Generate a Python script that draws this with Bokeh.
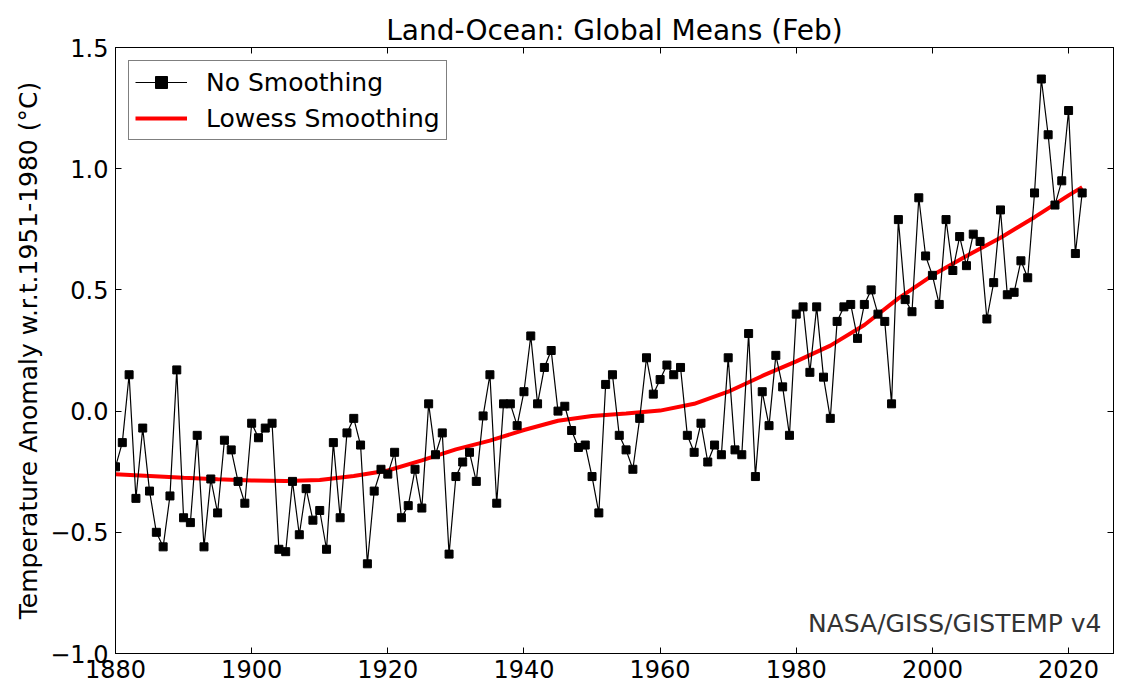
from bokeh.plotting import figure
from bokeh.models import Range1d, LinearAxis, FixedTicker, Legend, LegendItem, Label
from bokeh.embed import file_html
from bokeh.resources import INLINE

# ---- data ----
years = list(range(1880, 2023))
anomaly = [
    -0.23, -0.13, 0.15, -0.36, -0.07, -0.33, -0.50, -0.56, -0.35, 0.17,   # 1880s
    -0.44, -0.46, -0.10, -0.56, -0.28, -0.42, -0.12, -0.16, -0.29, -0.38, # 1890s
    -0.05, -0.11, -0.07, -0.05, -0.57, -0.58, -0.29, -0.51, -0.32, -0.45, # 1900s
    -0.41, -0.57, -0.13, -0.44, -0.09, -0.03, -0.14, -0.63, -0.33, -0.24, # 1910s
    -0.26, -0.17, -0.44, -0.39, -0.24, -0.40, 0.03, -0.18, -0.09, -0.59,  # 1920s
    -0.27, -0.21, -0.17, -0.29, -0.02, 0.15, -0.38, 0.03, 0.03, -0.06,    # 1930s
    0.08, 0.31, 0.03, 0.18, 0.25, 0.00, 0.02, -0.08, -0.15, -0.14,        # 1940s
    -0.27, -0.42, 0.11, 0.15, -0.10, -0.16, -0.24, -0.03, 0.22, 0.07,     # 1950s
    0.13, 0.19, 0.15, 0.18, -0.10, -0.17, -0.05, -0.21, -0.14, -0.18,     # 1960s
    0.22, -0.16, -0.18, 0.32, -0.27, 0.08, -0.06, 0.23, 0.10, -0.10,      # 1970s
    0.40, 0.43, 0.16, 0.43, 0.14, -0.03, 0.37, 0.43, 0.44, 0.30,          # 1980s
    0.44, 0.50, 0.40, 0.37, 0.03, 0.79, 0.46, 0.41, 0.88, 0.64,           # 1990s
    0.56, 0.44, 0.79, 0.58, 0.72, 0.60, 0.73, 0.70, 0.38, 0.53,           # 2000s
    0.83, 0.48, 0.49, 0.62, 0.55, 0.90, 1.37, 1.14, 0.85, 0.95,           # 2010s
    1.24, 0.65, 0.90,                                                     # 2020s
]

lowess_years = [1880, 1885, 1890, 1895, 1900, 1905, 1910, 1915, 1920, 1925,
                1930, 1935, 1940, 1945, 1950, 1955, 1960, 1965, 1970, 1975,
                1980, 1985, 1990, 1995, 2000, 2005, 2010, 2015, 2020, 2022]
lowess_values = [-0.261, -0.268, -0.275, -0.281, -0.286, -0.288, -0.284, -0.268, -0.245, -0.203,
                 -0.158, -0.122, -0.078, -0.040, -0.020, -0.010, 0.002, 0.030, 0.080, 0.145,
                 0.205, 0.270, 0.355, 0.465, 0.560, 0.640, 0.715, 0.800, 0.890, 0.924]

x_ticks = [1880, 1900, 1920, 1940, 1960, 1980, 2000, 2020]
y_ticks = [-1.0, -0.5, 0.0, 0.5, 1.0, 1.5]
y_tick_labels = ["\u22121.0", "\u22120.5", "0.0", "0.5", "1.0", "1.5"]

title_text = "Land-Ocean: Global Means (Feb)"
y_label = "Temperature Anomaly w.r.t.1951-1980 (\u00b0C)"
credit = "NASA/GISS/GISTEMP v4"

FONT = "DejaVu Sans"
TICK_FS = "24px"
TEXT_FS = "25px"
TITLE_FS = "28px"

p = figure(width=1122, height=692, output_backend="svg", toolbar_location=None,
           x_range=Range1d(1880, 2026.6), y_range=Range1d(-1.0, 1.5),
           min_border_left=115, min_border_right=9, min_border_top=47, min_border_bottom=39)
p.background_fill_color = "white"
p.border_fill_color = "white"
p.outline_line_color = "black"
p.outline_line_width = 1
p.xgrid.visible = False
p.ygrid.visible = False

p.title.text = title_text
p.title.align = "center"
p.title.text_font = FONT
p.title.text_font_size = TITLE_FS
p.title.text_font_style = "normal"
p.title.text_color = "black"
p.title.standoff = 2

def style_axis(ax, labels=True):
    ax.major_tick_in = 6
    ax.major_tick_out = 0
    ax.minor_tick_line_color = None
    ax.axis_line_color = "black"
    ax.major_tick_line_color = "black"
    ax.major_label_text_font = FONT
    ax.major_label_text_font_size = TICK_FS if labels else "0px"
    ax.major_label_text_color = "black"
    ax.major_label_standoff = 7 if labels else 0

style_axis(p.xaxis[0])
p.xaxis[0].ticker = FixedTicker(ticks=x_ticks)
p.xaxis[0].major_label_standoff = 6
style_axis(p.yaxis[0])
p.yaxis[0].ticker = FixedTicker(ticks=y_ticks)
p.yaxis[0].major_label_overrides = {t: s for t, s in zip(y_ticks, y_tick_labels)}
p.yaxis[0].axis_label = y_label
p.yaxis[0].axis_label_text_font = FONT
p.yaxis[0].axis_label_text_font_size = TEXT_FS
p.yaxis[0].axis_label_text_font_style = "normal"
p.yaxis[0].axis_label_text_color = "black"
p.yaxis[0].axis_label_standoff = 4

top_ax = LinearAxis(ticker=FixedTicker(ticks=x_ticks))
style_axis(top_ax, labels=False)
top_ax.major_label_overrides = {t: "" for t in x_ticks}
p.add_layout(top_ax, "above")
right_ax = LinearAxis(ticker=FixedTicker(ticks=y_ticks))
style_axis(right_ax, labels=False)
right_ax.major_label_overrides = {t: "" for t in y_ticks}
p.add_layout(right_ax, "right")

red = p.line(lowess_years, lowess_values, line_color="#ff0000", line_width=4)
blk_line = p.line(years, anomaly, line_color="black", line_width=1.2)
blk_pts = p.scatter(years, anomaly, marker="square", size=8, fill_color="black", line_color="black")

legend = Legend(items=[LegendItem(label="No Smoothing", renderers=[blk_line, blk_pts]),
                       LegendItem(label="Lowess Smoothing", renderers=[red])],
                location="top_left")
legend.margin = 13
legend.padding = 6
legend.spacing = 6
legend.label_height = 30
legend.glyph_height = 30
legend.glyph_width = 52
legend.label_standoff = 19
legend.label_text_font = FONT
legend.label_text_font_size = TEXT_FS
legend.label_text_color = "black"
legend.border_line_color = "black"
legend.border_line_width = 1
legend.background_fill_alpha = 1.0
p.add_layout(legend)

p.add_layout(Label(x=986, y=30, x_units="screen", y_units="screen", text=credit,
                   text_align="right", text_baseline="alphabetic",
                   text_font=FONT, text_font_size=TEXT_FS, text_color="#333333"))

open("out.html", "w").write(file_html(p, INLINE))
